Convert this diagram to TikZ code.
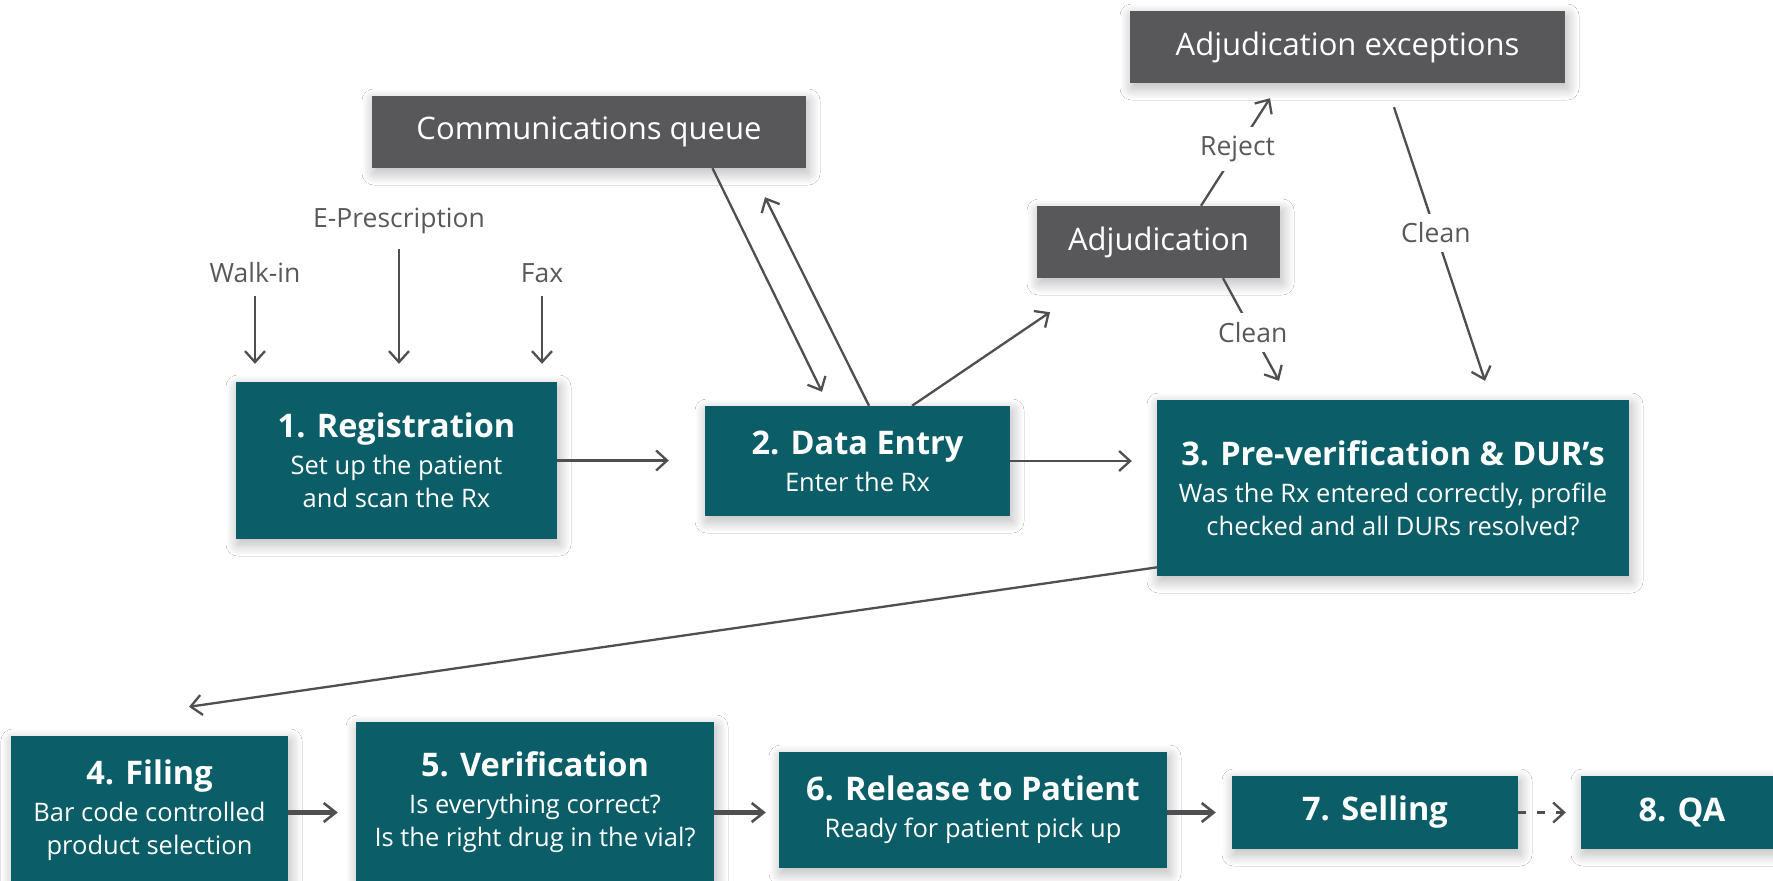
\documentclass[tikz,border=0pt]{standalone}
\usepackage{fontspec}
\setmainfont{Open Sans}
\usetikzlibrary{arrows.meta,shadows.blur,calc}

\definecolor{boxteal}{HTML}{0B5E67}
\definecolor{boxgray}{HTML}{58585A}
\definecolor{linegray}{HTML}{4F4F51}
\definecolor{labelgray}{HTML}{58595B}

\newcommand{\steptitle}[1]{{\fontsize{32.5}{36}\selectfont\bfseries #1}\\[4pt]}

\tikzset{
  softshadow/.style={blur shadow={shadow xshift=2pt, shadow yshift=-5pt,
      shadow blur radius=12pt, shadow blur extra rounding=0pt,
      shadow opacity=30, shadow blur steps=60}},
  stepbox/.style={fill=boxteal, text=white, align=center, inner sep=0pt,
      font=\fontsize{25.5}{33}\selectfont, softshadow},
  queuebox/.style={fill=boxgray, text=white, align=center, inner sep=0pt,
      minimum height=72pt, font=\fontsize{31}{36}\selectfont, softshadow},
  srclabel/.style={text=labelgray, inner sep=0pt, font=\fontsize{26.5}{30}\selectfont},
  pathlabel/.style={text=labelgray, fill=white, inner xsep=4pt, inner ysep=9pt,
      font=\fontsize{26.5}{30}\selectfont},
  arr/.style={draw=linegray, line width=2.3pt,
      -{Straight Barb[length=11pt, width=20pt, line width=2.3pt]}},
  heavyarr/.style={draw=linegray, line width=4.5pt,
      -{Straight Barb[length=12pt, width=19pt, line width=2.6pt]}},
}

\begin{document}
\begin{tikzpicture}[x=1pt, y=-1pt]
  \useasboundingbox (0,0) rectangle (1773,881);
  \fill[white] (0,0) rectangle (1773,881);
  \clip (0,0) rectangle (1773,881);

  % side boxes
  \node[queuebox, minimum width=434pt] (comm) at (589,132) {Communications queue};
  \node[queuebox, minimum width=435pt] (adjexc) at (1347.5,47) {Adjudication exceptions};
  \node[queuebox, minimum width=243pt] (adj) at (1158.5,242) {Adjudication};

  % upper row of steps
  \node[stepbox, minimum width=321pt, minimum height=157pt] (reg) at (396.5,460.5)
    {\steptitle{1. Registration}Set up the patient\\and scan the Rx};
  \node[stepbox, minimum width=305pt, minimum height=110pt] (de) at (857.5,461)
    {\steptitle{2. Data Entry}Enter the Rx};
  \node[stepbox, minimum width=472pt, minimum height=176pt] (pv) at (1393,488)
    {\steptitle{3. Pre-verification \& DUR’s}Was the Rx entered correctly, profile\\checked and all DURs resolved?};

  % lower row of steps
  \node[stepbox, minimum width=277pt, minimum height=148pt] (fil) at (149.5,810)
    {\steptitle{4. Filing}Bar code controlled\\product selection};
  \node[stepbox, minimum width=358pt, minimum height=160pt] (ver) at (535,802)
    {\steptitle{5. Verification}Is everything correct?\\Is the right drug in the vial?};
  \node[stepbox, minimum width=388pt, minimum height=116pt] (rel) at (973,810)
    {\steptitle{6. Release to Patient}Ready for patient pick up};
  \node[stepbox, minimum width=286pt, minimum height=73pt, font=\fontsize{32.5}{36}\selectfont\bfseries] (sel) at (1375,812.5) {7. Selling};
  \node[stepbox, minimum width=202pt, minimum height=73pt, font=\fontsize{32.5}{36}\selectfont\bfseries] (qa) at (1682,812.5) {8. QA};

  % incoming prescriptions
  \node[srclabel, anchor=base] (walk) at (255,282) {Walk-in};
  \node[srclabel, anchor=base] (epre) at (399,227) {E-Prescription};
  \node[srclabel, anchor=base] (fax) at (542,282) {Fax};
  \draw[arr, shorten <=14pt, shorten >=18pt] (walk.base) -- (walk.base |- reg.north);
  \draw[arr, shorten <=22pt, shorten >=18pt] (epre.base) -- (epre.base |- reg.north);
  \draw[arr, shorten <=14pt, shorten >=18pt] (fax.base) -- (fax.base |- reg.north);

  % main flow, upper row
  \draw[arr, shorten >=36pt] (reg.east) -- (reg.east -| de.west);
  \draw[arr, shorten >=25pt] (de.east) -- (de.east -| pv.west);

  % data entry and the communications queue
  \draw[arr] ($(comm.south)+(123.5,0)$) -- ($(de.north)+(-35.5,-14)$);
  \draw[arr] ($(de.north)+(11.5,0)$) -- ($(comm.south)+(176,29)$);

  % adjudication loop
  \draw[arr] ($(de.north)+(54.5,0)$) -- ($(adj.south)+(-108.5,34)$);
  \draw[arr] ($(adj.north)+(42.5,0)$) -- ($(adjexc.south)+(-77.5,15)$)
    node[pathlabel, pos=0.53] (rej) {Reject};
  \draw[arr] ($(adj.south)+(64.5,0)$) -- ($(pv.north)+(-114,-19)$)
    node[pathlabel, pos=0.53] (clean1) {Clean};
  \draw[arr] ($(adjexc.south)+(46.5,24)$) -- ($(pv.north)+(92,-19)$)
    node[pathlabel, pos=0.46] (clean2) {Clean};

  % down to the lower row
  \draw[arr] ($(pv.south west)+(1,-9)$) -- ($(fil.north)+(39.5,-29)$);

  % main flow, lower row
  \draw[heavyarr, shorten >=18pt] (fil.east |- sel.west) -- (ver.west |- sel.west);
  \draw[heavyarr, shorten >=13pt] (ver.east |- sel.west) -- (rel.west |- sel.west);
  \draw[heavyarr, shorten >=16pt] (rel.east |- sel.west) -- (sel.west);
  \draw[arr, dash pattern=on 8pt off 11pt, shorten >=15pt] (sel.east) -- (qa.west);
\end{tikzpicture}
\end{document}
